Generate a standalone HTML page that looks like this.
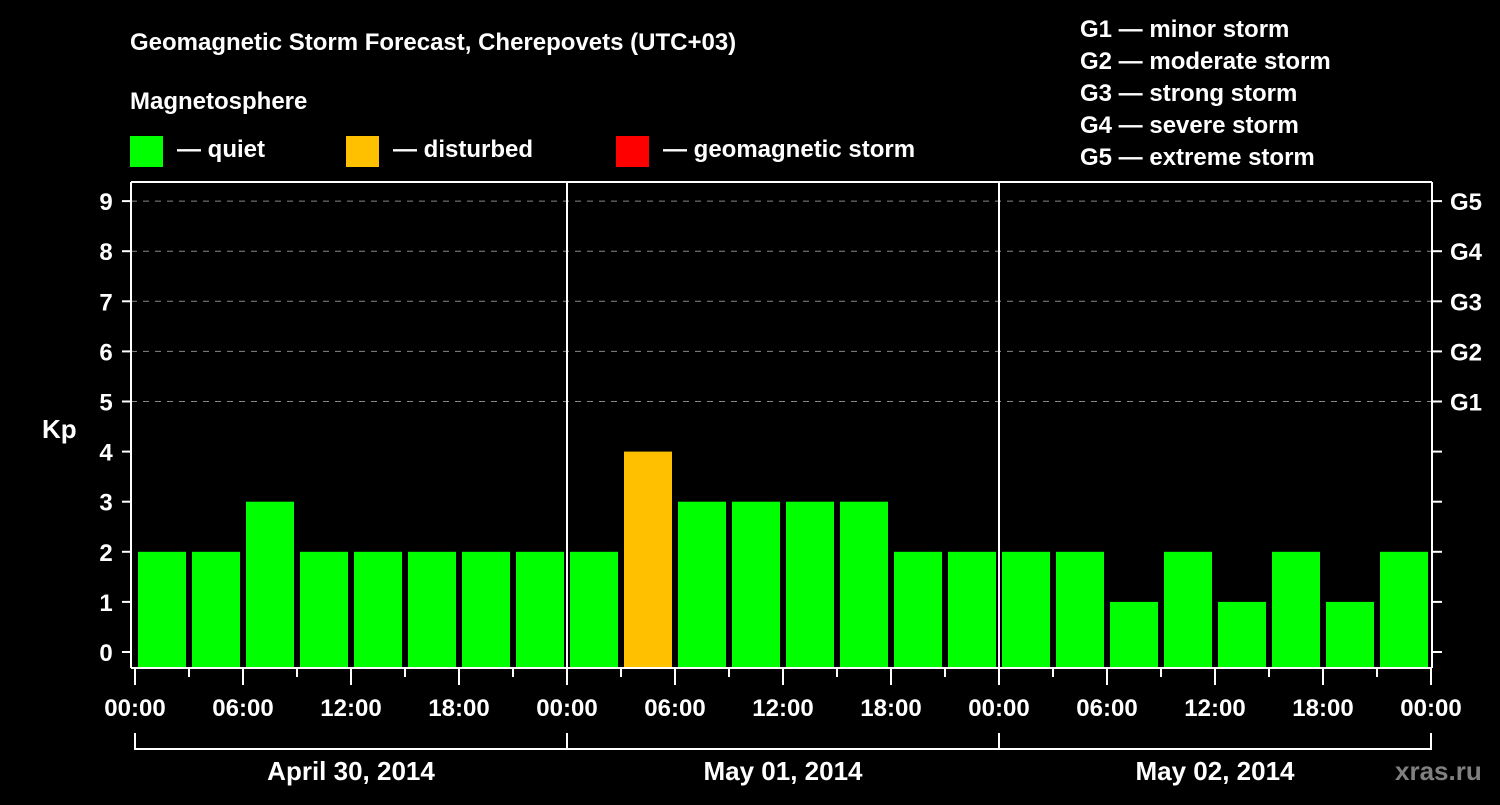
<!DOCTYPE html>
<html><head><meta charset="utf-8"><style>
body{margin:0;background:#000;width:1500px;height:800px;overflow:hidden}
svg text{font-family:"Liberation Sans",Arial,sans-serif;font-weight:bold;fill:#fff}
</style></head><body>
<svg id="c" width="1500" height="800" xmlns="http://www.w3.org/2000/svg">
<text x="130" y="50" font-size="24">Geomagnetic Storm Forecast, Cherepovets (UTC+03)</text>
<text x="130" y="109" font-size="24">Magnetosphere</text>
<g><rect x="130" y="136" width="33" height="31" fill="#00ff00"/><text x="177" y="157" font-size="24">— quiet</text></g>
<g><rect x="346" y="136" width="33" height="31" fill="#ffc000"/><text x="393" y="157" font-size="24">— disturbed</text></g>
<g><rect x="616" y="136" width="33" height="31" fill="#ff0000"/><text x="663" y="157" font-size="24">— geomagnetic storm</text></g>
<g font-size="24">
<text x="1080" y="37">G1 — minor storm</text><text x="1080" y="69">G2 — moderate storm</text><text x="1080" y="101">G3 — strong storm</text><text x="1080" y="133">G4 — severe storm</text><text x="1080" y="165">G5 — extreme storm</text></g>
<text x="42" y="438" font-size="26">Kp</text>
<text x="1395" y="780" font-size="26" fill="#808080" style="fill:#808080">xras.ru</text>
<g id="grid"></g><g id="bars"></g><g id="axes"></g>
</svg>
<script>
const kpValues=[2,2,3,2,2,2,2,2, 2,4,3,3,3,3,2,2, 2,2,1,2,1,2,1,2];
const timeLabels=["00:00","06:00","12:00","18:00"];
const dayLabels=["April 30, 2014","May 01, 2014","May 02, 2014"];
const yTicks=[0,1,2,3,4,5,6,7,8,9];
const gLabels={5:"G1",6:"G2",7:"G3",8:"G4",9:"G5"};
const NS="http://www.w3.org/2000/svg";
const x0=135,stepX=54,y0=652,stepY=50.1,L=131,R=1432,T=182,B=668;
const X=i=>x0+i*stepX, Y=v=>y0-v*stepY;
function mk(p,t,a){const e=document.createElementNS(NS,t);for(const k in a)e.setAttribute(k,a[k]);p.appendChild(e);return e;}
const grid=document.getElementById('grid'),bars=document.getElementById('bars'),axes=document.getElementById('axes');
yTicks.forEach(v=>{
 if(v>=5){const l=mk(grid,'line',{x1:L,x2:R,y1:Y(v),y2:Y(v),stroke:'#888','stroke-dasharray':'6,6','stroke-width':1});
 
 }
 const t=mk(axes,'line',{x1:122,x2:L,y1:Y(v),y2:Y(v),stroke:'#fff','stroke-width':2});
 
 
 const t2=mk(axes,'line',{x1:R,x2:1442,y1:Y(v),y2:Y(v),stroke:'#fff','stroke-width':2});
 
 
 const tx=mk(axes,'text',{x:106,y:Y(v)+9,'font-size':24,'text-anchor':'middle'});tx.textContent=v;
 
 
 if(gLabels[v]){const g=mk(axes,'text',{x:1450,y:Y(v)+9,'font-size':24});g.textContent=gLabels[v];
 
 }
});
kpValues.forEach((v,i)=>{
 const c=v>=5?'#ff0000':(v>=4?'#ffc000':'#00ff00');
 const r=mk(bars,'rect',{x:X(i)+3,y:Y(v),width:48,height:B-1-Y(v),fill:c});
 
 
});
[[L,T,L,B],[L,B,R,B],[R,T,R,B],[L,T,R,T]].forEach(a=>{
 const l=mk(axes,'line',{x1:a[0],y1:a[1],x2:a[2],y2:a[3],stroke:'#fff','stroke-width':2});
 
 
});
for(let d=1;d<dayLabels.length;d++){const l=mk(axes,'line',{x1:X(d*8),x2:X(d*8),y1:T,y2:B,stroke:'#fff','stroke-width':2});
 
 }
for(let i=0;i<=24;i++){
 const maj=i%2==0;
 const l=mk(axes,'line',{x1:X(i),x2:X(i),y1:B,y2:maj?685:677,stroke:'#fff','stroke-width':2});
 
 
 if(maj){const t=mk(axes,'text',{x:X(i),y:716,'font-size':24,'text-anchor':'middle'});
 t.textContent=i==24?timeLabels[0]:timeLabels[(i/2)%4];
 
 }
}
const br=mk(axes,'path',{d:`M${X(0)},733V749H${X(24)}V733`,stroke:'#fff','stroke-width':2,fill:'none'});


dayLabels.forEach((d,i)=>{
 if(i>0){const l=mk(axes,'line',{x1:X(i*8),x2:X(i*8),y1:733,y2:749,stroke:'#fff','stroke-width':2});
 
 }
 const t=mk(axes,'text',{x:X(i*8+4),y:780,'font-size':26,'text-anchor':'middle'});t.textContent=d;
 
 
});
</script>
</body></html>
